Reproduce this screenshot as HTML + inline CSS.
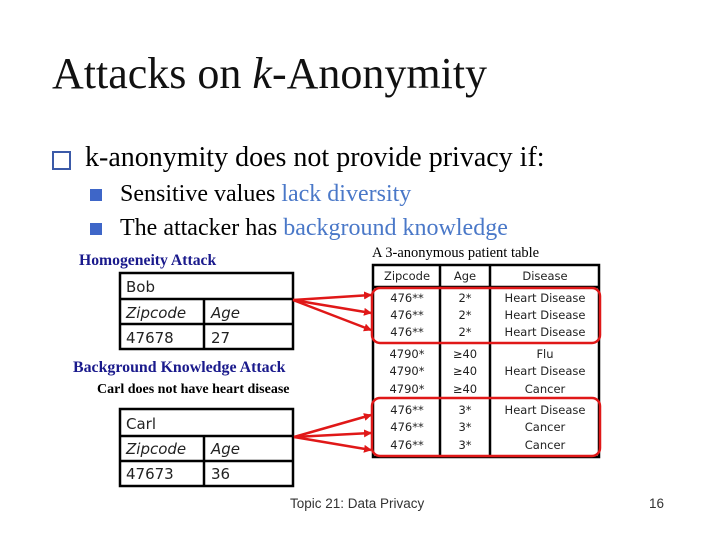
<!DOCTYPE html>
<html><head><meta charset="utf-8"><style>
body{margin:0;width:720px;height:540px;background:#fff;position:relative;overflow:hidden;font-family:"Liberation Serif",serif}
.a{position:absolute;white-space:nowrap}
</style></head><body>
<div class="a" style="left:52px;top:48px;font-size:44px;color:#111">Attacks on <i>k</i>-Anonymity</div>
<div class="a" style="left:52px;top:151px;width:15px;height:15px;border:2px solid #3b5aa8"></div>
<div class="a" style="left:85px;top:142px;font-size:28px">k-anonymity does not provide privacy if:</div>
<div class="a" style="left:90px;top:189px;width:12px;height:12px;background:#3e66c8"></div>
<div class="a" style="left:120px;top:181px;font-size:24px">Sensitive values <span style="color:#4a78c8">lack diversity</span></div>
<div class="a" style="left:90px;top:223px;width:12px;height:12px;background:#3e66c8"></div>
<div class="a" style="left:120px;top:215px;font-size:24px">The attacker has <span style="color:#4a78c8">background knowledge</span></div>
<div class="a" style="left:79px;top:252px;font-size:15.7px;font-weight:bold;color:#1a1a8c">Homogeneity Attack</div>
<div class="a" style="left:73px;top:359px;font-size:15.9px;font-weight:bold;color:#1a1a8c">Background Knowledge Attack</div>
<div class="a" style="left:97px;top:382px;font-size:14px;font-weight:bold">Carl does not have heart disease</div>
<div class="a" style="left:372px;top:245px;font-size:14.5px">A 3-anonymous patient table</div>
<svg class="a" style="left:0;top:0" width="720" height="540">
<g fill="none" stroke="#000" stroke-width="2.5">
<rect x="120" y="273" width="173" height="76"/><line x1="120" y1="299" x2="293" y2="299"/><line x1="120" y1="324" x2="293" y2="324"/><line x1="204" y1="299" x2="204" y2="349"/>
<rect x="120" y="409" width="173" height="77"/><line x1="120" y1="436" x2="293" y2="436"/><line x1="120" y1="461" x2="293" y2="461"/><line x1="204" y1="436" x2="204" y2="486"/>
<rect x="373" y="265" width="226" height="192"/><line x1="373" y1="287" x2="599" y2="287"/><line x1="440" y1="265" x2="440" y2="457"/><line x1="490" y1="265" x2="490" y2="457"/>
</g>
<g fill="none" stroke="#e01818" stroke-width="2.5">
<rect x="372" y="288" width="228" height="55" rx="8"/><rect x="372" y="398" width="228" height="58" rx="8"/>
</g>
<defs><marker id="m" markerWidth="8" markerHeight="8" refX="7" refY="4" orient="auto" markerUnits="userSpaceOnUse"><path d="M0,0L8,4L0,8z" fill="#e01818"/></marker></defs>
<g stroke="#e01818" stroke-width="2.5" marker-end="url(#m)">
<line x1="293" y1="300" x2="371" y2="295"/><line x1="293" y1="300" x2="371" y2="313"/><line x1="293" y1="300" x2="371" y2="330"/>
<line x1="294" y1="437" x2="371" y2="415"/><line x1="294" y1="437" x2="371" y2="433"/><line x1="294" y1="437" x2="371" y2="450"/>
</g>
<g font-family="DejaVu Sans,Liberation Sans,sans-serif" font-size="15" fill="#222">
<text x="126" y="292">Bob</text><text x="126" y="318" font-style="italic">Zipcode</text><text x="211" y="318" font-style="italic">Age</text>
<text x="126" y="343">47678</text><text x="211" y="343">27</text>
<text x="126" y="429">Carl</text><text x="126" y="454" font-style="italic">Zipcode</text><text x="211" y="454" font-style="italic">Age</text>
<text x="126" y="479">47673</text><text x="211" y="479">36</text>
</g>
<g font-family="DejaVu Sans,Liberation Sans,sans-serif" font-size="11.5" fill="#222" text-anchor="middle">
<text x="407" y="280">Zipcode</text><text x="465" y="280">Age</text><text x="545" y="280">Disease</text>
<text x="407" y="302">476**</text><text x="465" y="302">2*</text><text x="545" y="302">Heart Disease</text>
<text x="407" y="319">476**</text><text x="465" y="319">2*</text><text x="545" y="319">Heart Disease</text>
<text x="407" y="336">476**</text><text x="465" y="336">2*</text><text x="545" y="336">Heart Disease</text>
<text x="407" y="358">4790*</text><text x="465" y="358">≥40</text><text x="545" y="358">Flu</text>
<text x="407" y="375">4790*</text><text x="465" y="375">≥40</text><text x="545" y="375">Heart Disease</text>
<text x="407" y="393">4790*</text><text x="465" y="393">≥40</text><text x="545" y="393">Cancer</text>
<text x="407" y="414">476**</text><text x="465" y="414">3*</text><text x="545" y="414">Heart Disease</text>
<text x="407" y="431">476**</text><text x="465" y="431">3*</text><text x="545" y="431">Cancer</text>
<text x="407" y="449">476**</text><text x="465" y="449">3*</text><text x="545" y="449">Cancer</text>
</g>
<g font-family="Liberation Sans,sans-serif" font-size="13.5" fill="#333">
<text x="290" y="508">Topic 21: Data Privacy</text><text x="649" y="508">16</text>
</g>
</svg>
</body></html>
